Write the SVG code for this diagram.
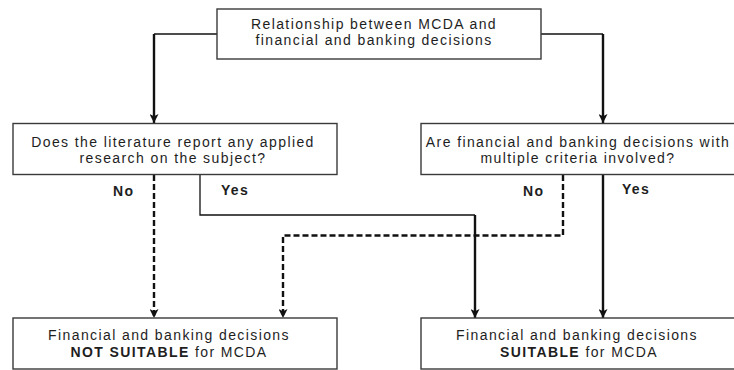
<svg xmlns="http://www.w3.org/2000/svg" width="734" height="370" viewBox="0 0 734 370">
  <style>
    .box { fill: #ffffff; stroke: #3a3a3a; stroke-width: 1.4; }
    .t { font-family: "Liberation Sans", Arial, sans-serif; font-size: 14px; letter-spacing: 1.4px; fill: #1e1e1e; text-anchor: middle; }
    .lbl { font-family: "Liberation Sans", Arial, sans-serif; font-size: 14px; letter-spacing: 1.3px; fill: #1e1e1e; font-weight: bold; }
    .thin { fill: none; stroke: #111; stroke-width: 1.3; }
    .thick { fill: none; stroke: #111; stroke-width: 2.4; }
    .dash { fill: none; stroke: #111; stroke-width: 2.4; stroke-dasharray: 6 3; }
  </style>
  <defs>
    <marker id="arr" viewBox="0 0 10 10" refX="10" refY="5" markerWidth="9" markerHeight="9" markerUnits="userSpaceOnUse" orient="auto">
      <path d="M0,0 L10,5 L0,10 L2.5,5 z" fill="#111"/>
    </marker>
  </defs>
  <rect width="734" height="370" fill="#ffffff"/>

  <g id="connectors">
    <polyline class="thin" points="217,34 154,34"/>
    <line class="thick" x1="154" y1="34" x2="154" y2="123" marker-end="url(#arr)"/>
    <polyline class="thin" points="541,34 603,34"/>
    <line class="thick" x1="603" y1="34" x2="603" y2="123" marker-end="url(#arr)"/>
    <line class="dash" x1="154" y1="175" x2="154" y2="318" marker-end="url(#arr)"/>
    <polyline class="thin" points="200,175 200,215 475,215"/>
    <line class="thick" x1="475" y1="215" x2="475" y2="318" marker-end="url(#arr)"/>
    <polyline class="dash" points="563,175 563,235.5 283,235.5 283,318" marker-end="url(#arr)"/>
    <line class="thick" x1="603" y1="175" x2="603" y2="318" marker-end="url(#arr)"/>
    <text class="lbl" x="113" y="196">No</text>
    <text class="lbl" x="221" y="195">Yes</text>
    <text class="lbl" x="523" y="196">No</text>
    <text class="lbl" x="622" y="194">Yes</text>
  </g>

  <g id="top">
    <rect class="box" x="217" y="9" width="324" height="50"/>
    <text class="t" x="374" y="29">Relationship between MCDA and</text>
    <text class="t" x="374" y="45">financial and banking decisions</text>
  </g>

  <g id="q-literature">
    <rect class="box" x="13" y="123.5" width="324" height="51"/>
    <text class="t" x="173" y="147">Does the literature report any applied</text>
    <text class="t" x="173" y="163">research on the subject?</text>
  </g>

  <g id="q-criteria">
    <rect class="box" x="421" y="123.5" width="320" height="51"/>
    <text class="t" x="578" y="147">Are financial and banking decisions with</text>
    <text class="t" x="578" y="163">multiple criteria involved?</text>
  </g>

  <g id="not-suitable">
    <rect class="box" x="13" y="318" width="324" height="51"/>
    <text class="t" x="169" y="340">Financial and banking decisions</text>
    <text class="t" x="169" y="357"><tspan font-weight="bold">NOT SUITABLE</tspan> for MCDA</text>
  </g>

  <g id="suitable">
    <rect class="box" x="421" y="318" width="320" height="51"/>
    <text class="t" x="577" y="340">Financial and banking decisions</text>
    <text class="t" x="579" y="357"><tspan font-weight="bold">SUITABLE</tspan> for MCDA</text>
  </g>
</svg>
